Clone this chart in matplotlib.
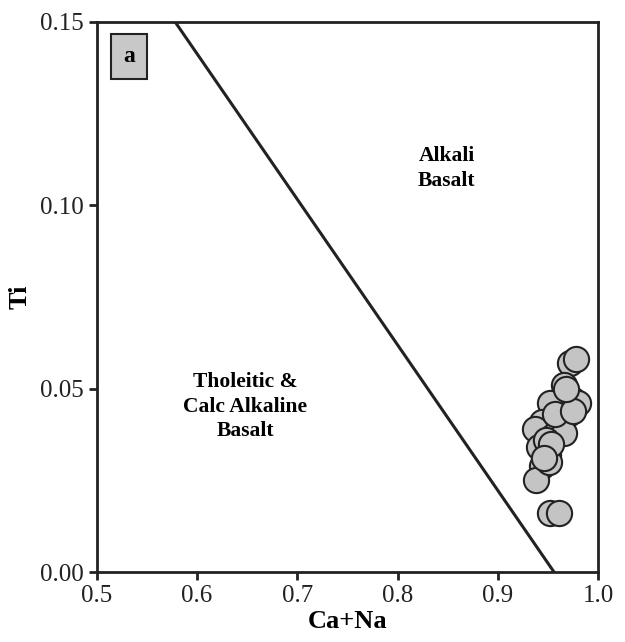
import matplotlib
matplotlib.use("Agg")
from matplotlib import pyplot as plt

plt.rcParams['font.family'] = ['Liberation Serif', 'DejaVu Serif']

# sample compositions (Ca+Na vs Ti)
ca_na = [0.972, 0.978, 0.966, 0.975, 0.980, 0.952, 0.970, 0.944, 0.937, 0.962,
         0.955, 0.941, 0.950, 0.944, 0.938, 0.952, 0.961, 0.966, 0.957, 0.948,
         0.951, 0.953, 0.975, 0.968, 0.946]
ti = [0.057, 0.058, 0.051, 0.047, 0.046, 0.046, 0.043, 0.041, 0.039, 0.040,
      0.037, 0.034, 0.032, 0.029, 0.025, 0.016, 0.016, 0.038, 0.043, 0.036,
      0.030, 0.035, 0.044, 0.050, 0.031]

# discrimination boundary
line_x = [0.578, 0.956]
line_y = [0.15, 0.0]

fig = plt.figure(figsize=(6.25, 6.42), dpi=100)
ax = fig.add_axes([0.155, 0.109, 0.802, 0.857])

ax.plot(line_x, line_y, color='#222222', lw=2.2, zorder=2)
ax.scatter(ca_na, ti, s=330, facecolor='#c4c4c4', edgecolor='#222222',
           linewidths=1.5, zorder=3)

ax.text(0.849, 0.110, "Alkali\nBasalt", ha='center', va='center',
        fontsize=15.5, fontweight='bold', linespacing=1.3)
ax.text(0.648, 0.045, "Tholeitic &\nCalc Alkaline\nBasalt", ha='center',
        va='center', fontsize=15.5, fontweight='bold', linespacing=1.3)
ax.text(0.532, 0.1405, "a", ha='center', va='center', fontsize=17,
        fontweight='bold',
        bbox=dict(boxstyle='square,pad=0.5', facecolor='#c8c8c8',
                  edgecolor='#222222', lw=1.5))

ax.set_xlim(0.5, 1.0)
ax.set_ylim(0.0, 0.15)
ax.set_xticks([0.5, 0.6, 0.7, 0.8, 0.9, 1.0])
ax.set_yticks([0.0, 0.05, 0.10, 0.15])
ax.set_yticklabels(["0.00", "0.05", "0.10", "0.15"])
ax.set_xticklabels(["0.5", "0.6", "0.7", "0.8", "0.9", "1.0"])
ax.tick_params(direction='out', length=6, width=2, labelsize=18,
               colors='#222222')
for s in ax.spines.values():
    s.set_linewidth(2)
    s.set_color('#222222')

ax.set_xlabel("Ca+Na", fontsize=19, fontweight='bold', labelpad=2)
ax.set_ylabel("Ti", fontsize=19, fontweight='bold', labelpad=6)

fig.savefig("out.png", dpi=100)
